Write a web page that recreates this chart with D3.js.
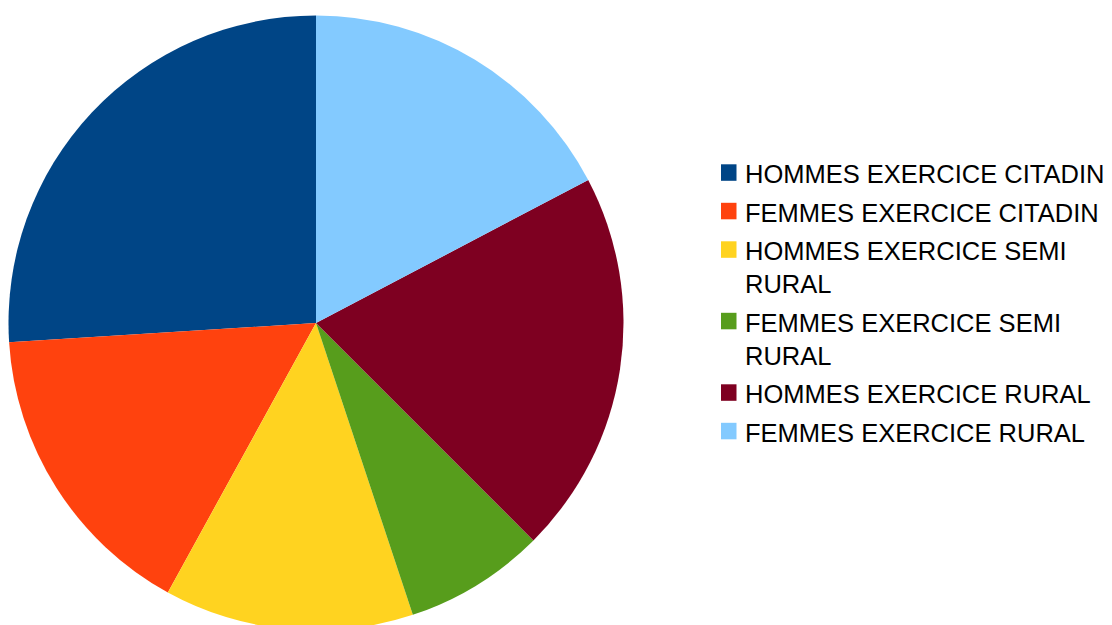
<!DOCTYPE html>
<html>
<head>
<meta charset="utf-8">
<script src="https://cdn.jsdelivr.net/npm/d3@7"></script>
<style>
  html, body { margin: 0; padding: 0; background: #fff; }
  svg { display: block; }
</style>
</head>
<body>
<svg id="chart" width="1112" height="625"></svg>
<script>
// Shares per group (percent)
const categories = [
  "HOMMES EXERCICE CITADIN",
  "FEMMES EXERCICE CITADIN",
  "HOMMES EXERCICE SEMI RURAL",
  "FEMMES EXERCICE SEMI RURAL",
  "HOMMES EXERCICE RURAL",
  "FEMMES EXERCICE RURAL"
];
const values = [26.0, 16.0, 13.1, 7.4, 20.2, 17.3];
const colors = ["#004586", "#ff420e", "#ffd320", "#579d1c", "#7e0021", "#83caff"];

const svg = d3.select("#chart");
const cx = 316, cy = 323, radius = 307.5;

const color = d3.scaleOrdinal().domain(categories).range(colors);

// Slices run counter-clockwise from twelve o'clock
const pie = d3.pie()
  .sort(null)
  .value(d => d.value)
  .startAngle(0)
  .endAngle(-2 * Math.PI);

const arc = d3.arc().innerRadius(0).outerRadius(radius);

const data = categories.map((c, i) => ({ name: c, value: values[i] }));

svg.append("g")
  .attr("transform", `translate(${cx},${cy})`)
  .selectAll("path")
  .data(pie(data))
  .join("path")
  .attr("d", arc)
  .attr("fill", d => color(d.data.name));

// Legend
const legend = svg.append("g").attr("font-family", "'Liberation Sans', Arial, sans-serif")
  .attr("font-size", 25.5);
const lx = 721, tx = 745, maxW = 364, lineH = 33, gap = 5.5;
let baseline = 183.3;

data.forEach(d => {
  const item = legend.append("g");
  item.append("rect")
    .attr("x", lx).attr("y", baseline - 19)
    .attr("width", 15.5).attr("height", 16.5)
    .attr("fill", color(d.name));
  const text = item.append("text").attr("x", tx).attr("y", baseline).attr("fill", "#000");
  const words = d.name.split(" ");
  let line = [];
  let tspan = text.append("tspan").attr("x", tx).attr("y", baseline);
  let lines = 1;
  words.forEach(w => {
    line.push(w);
    tspan.text(line.join(" "));
    if (tspan.node().getComputedTextLength() > maxW && line.length > 1) {
      line.pop();
      tspan.text(line.join(" "));
      line = [w];
      tspan = text.append("tspan").attr("x", tx).attr("y", baseline + lines * lineH).text(w);
      lines++;
    }
  });
  baseline += lines * lineH + gap;
});
</script>
</body>
</html>
